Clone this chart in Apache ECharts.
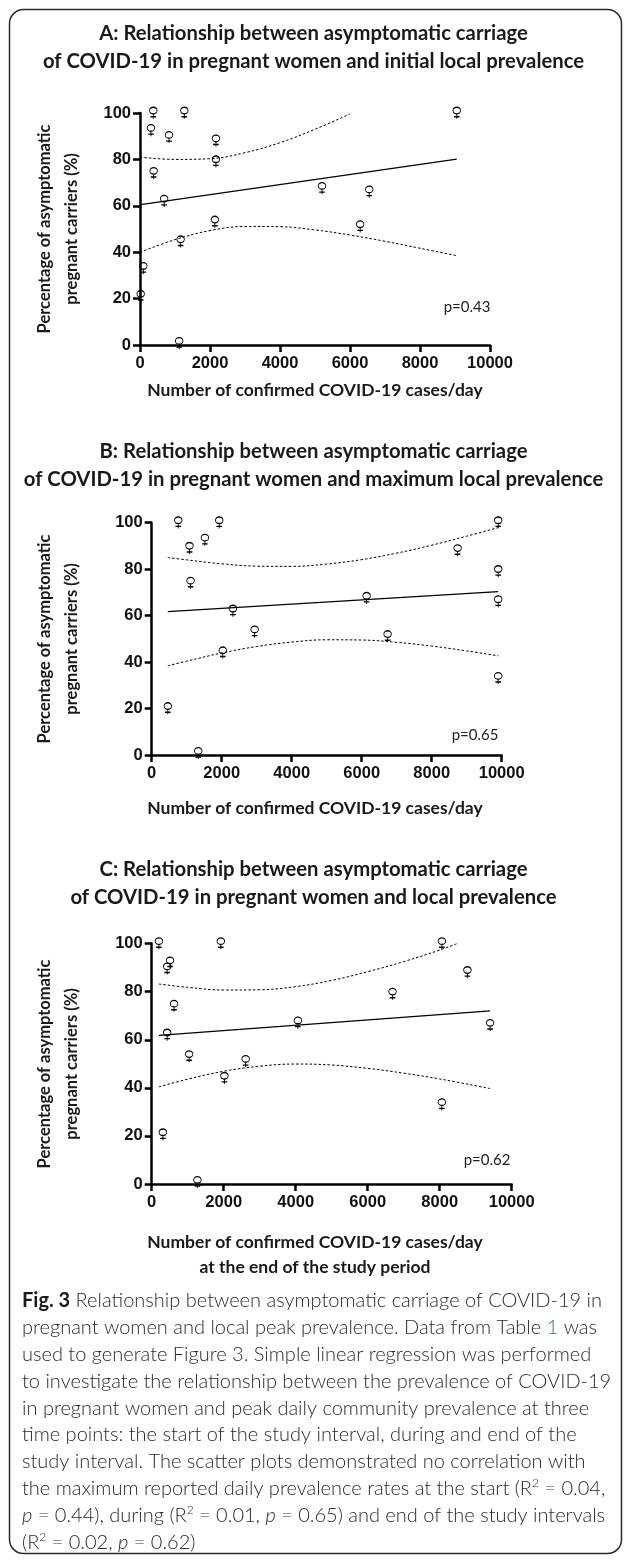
<!DOCTYPE html>
<html>
<head>
<meta charset="utf-8">
<script src="https://cdn.jsdelivr.net/npm/echarts@6/dist/echarts.min.js"></script>
<style>
html,body{margin:0;padding:0;background:#fff;}
#chart{width:627px;height:1560px;}
</style>
</head>
<body>
<div id="chart"></div>
<script>
// ---------- DATA ----------
const xTicks = [0, 2000, 4000, 6000, 8000, 10000];
const yTicks = [0, 20, 40, 60, 80, 100];

// Panel A: initial local prevalence
const aCases = [380, 1266, 314, 829, 2170, 2170, 390, 690, 5200, 6550, 6290, 1160, 2140, 95, 20, 1120, 9050];
const aPct   = [100, 100, 92.5, 89.5, 88, 79, 74, 62, 67.5, 66, 51, 44.5, 53, 33, 21, 0.7, 100];
const aFitX  = [20, 9050];
const aFitY  = [60.5, 80.1];
const aBandX = [0, 1000, 2000, 3000, 4000, 5000, 6000, 7000, 8000, 9050];
const aUpper = [81.0, 80.0, 80.3, 82.9, 87.2, 93.0, 99.6];
const aLower = [40.0, 45.4, 49.3, 51.1, 51.0, 49.6, 47.4, 44.7, 41.7, 38.5];

// Panel B: maximum local prevalence
const bCases = [460, 760, 1080, 1520, 1930, 1110, 2320, 2940, 2030, 1330, 9900, 8740, 9900, 9900, 6140, 6740, 9900];
const bPct   = [20, 100, 89, 92.5, 100, 74, 62, 53, 44, 0.7, 100, 88, 79, 66, 67.5, 51, 33];
const bFitX  = [460, 9900];
const bFitY  = [61.7, 70.3];
const bBandX = [460, 1000, 2000, 3000, 4000, 5000, 6000, 7000, 8000, 9000, 9900];
const bUpper = [85.0, 84.0, 82.3, 81.3, 81.2, 82.2, 84.1, 86.9, 90.3, 94.2, 97.9];
const bLower = [38.4, 40.4, 43.9, 46.7, 48.6, 49.6, 49.5, 48.5, 46.9, 44.8, 42.7];

// Panel C: prevalence at end of study period
const cCases = [200, 1920, 510, 430, 620, 430, 1040, 2020, 2610, 4060, 310, 1270, 8060, 8770, 6690, 9400, 8060];
const cPct   = [100, 100, 92, 89.5, 74, 62, 53, 44, 51, 67, 20.5, 0.7, 100, 88, 79, 66, 33];
const cFitX  = [200, 9400];
const cFitY  = [61.8, 72.0];
const cBandXU = [200, 1000, 2000, 3000, 4000, 5000, 6000, 7000, 8000, 8480];
const cUpper  = [83.2, 81.8, 80.7, 80.8, 82.1, 84.7, 88.3, 92.5, 97.3, 100];
const cBandXL = [200, 1000, 2000, 3000, 4000, 5000, 6000, 7000, 8000, 9400];
const cLower  = [40.4, 43.6, 46.9, 49.0, 49.9, 49.5, 48.1, 46.1, 43.7, 39.7];

const pValues = ['p=0.43', 'p=0.65', 'p=0.62'];

const titles = [
  'A: Relationship between asymptomatic carriage\nof COVID-19 in pregnant women and initial local prevalence',
  'B: Relationship between asymptomatic carriage\nof COVID-19 in pregnant women and maximum local prevalence',
  'C: Relationship between asymptomatic carriage\nof COVID-19 in pregnant women and local prevalence'
];
const xNames = [
  'Number of confirmed COVID-19 cases/day',
  'Number of confirmed COVID-19 cases/day',
  'Number of confirmed COVID-19 cases/day\nat the end of the study period'
];
const yName = 'Percentage of asymptomatic\npregnant carriers (%)';

const captionLines = [
  '{b|Fig. 3} Relationship between asymptomatic carriage of COVID-19 in',
  'pregnant women and local peak prevalence. Data from Table {l|1} was',
  'used to generate Figure 3. Simple linear regression was performed',
  'to investigate the relationship between the prevalence of COVID-19',
  'in pregnant women and peak daily community prevalence at three',
  'time points: the start of the study interval, during and end of the',
  'study interval. The scatter plots demonstrated no correlation with',
  'the maximum reported daily prevalence rates at the start (R{s|2} = 0.04,',
  '{i|p} = 0.44), during (R{s|2} = 0.01, {i|p} = 0.65) and end of the study intervals',
  '(R{s|2} = 0.02, {i|p} = 0.62)'
];

// ---------- helpers ----------
const zip = (xs, ys) => ys.map((y, i) => [xs[i], y]);
const FEMALE = 'path://M1,5A4,4 0 1,1 9,5A4,4 0 1,1 1,5Z M5,9L5,15 M2,12.5L8,12.5';

const panels = [
  {cases: aCases, pct: aPct, fitX: aFitX, fitY: aFitY, ux: aBandX, up: aUpper, lx: aBandX, lo: aLower},
  {cases: bCases, pct: bPct, fitX: bFitX, fitY: bFitY, ux: bBandX, up: bUpper, lx: bBandX, lo: bLower},
  {cases: cCases, pct: cPct, fitX: cFitX, fitY: cFitY, ux: cBandXU, up: cUpper, lx: cBandXL, lo: cLower}
];

const grids = [
  {left: 140,   top: 113,   width: 350, height: 232},
  {left: 151.7, top: 522.7, width: 350, height: 232.3},
  {left: 151.7, top: 943.6, width: 360, height: 240.4}
];
const xTitleCenterY = [390, 808, 1255];
const titleTop = [19.5, 437, 855];
const yTitleCenter = [229, 639, 1064];
const pPos = [[467, 307], [475, 735], [487, 1160]];

const axisLine = {lineStyle: {color: '#000', width: 2.5}};
const axisTick = {length: 7, lineStyle: {color: '#000', width: 2.5}};
const tickFont = {fontFamily: 'Liberation Sans', fontWeight: 'bold', fontSize: 16.5, color: '#111'};

const option = {
  animation: false,
  backgroundColor: '#fff',
  title: titles.map((t, i) => ({
    text: t, left: 'center', top: titleTop[i], padding: 0,
    textStyle: {fontFamily: 'Lato', fontWeight: 'bold', fontSize: 20.3, lineHeight: 28, color: '#1a1a1a'}
  })),
  grid: grids,
  xAxis: grids.map((g, i) => ({
    type: 'value', gridIndex: i, min: xTicks[0], max: xTicks[xTicks.length - 1],
    interval: xTicks[1] - xTicks[0],
    axisLine, axisTick, splitLine: {show: false},
    axisLabel: Object.assign({margin: 10, formatter: v => String(v)}, tickFont)
  })),
  yAxis: grids.map((g, i) => ({
    type: 'value', gridIndex: i, min: yTicks[0], max: yTicks[yTicks.length - 1],
    interval: yTicks[1] - yTicks[0],
    axisLine, axisTick, splitLine: {show: false},
    axisLabel: Object.assign({margin: 9, formatter: v => String(v)}, tickFont)
  })),
  series: [],
  graphic: []
};

panels.forEach((p, i) => {
  option.series.push({
    type: 'scatter', xAxisIndex: i, yAxisIndex: i,
    data: zip(p.cases, p.pct),
    symbol: FEMALE, symbolSize: [7.5, 11.5],
    itemStyle: {color: 'rgba(0,0,0,0)', borderColor: '#000', borderWidth: 1.1, opacity: 1},
    z: 5
  });
  option.series.push({
    type: 'line', xAxisIndex: i, yAxisIndex: i,
    data: zip(p.fitX, p.fitY), showSymbol: false, symbol: 'none',
    lineStyle: {color: '#000', width: 1.2}, z: 3
  });
  option.series.push({
    type: 'line', xAxisIndex: i, yAxisIndex: i,
    data: zip(p.ux, p.up), showSymbol: false, symbol: 'none', smooth: 0.4,
    lineStyle: {color: '#000', width: 1, type: [2.5, 2]}, z: 3
  });
  option.series.push({
    type: 'line', xAxisIndex: i, yAxisIndex: i,
    data: zip(p.lx, p.lo), showSymbol: false, symbol: 'none', smooth: 0.4,
    lineStyle: {color: '#000', width: 1, type: [2.5, 2]}, z: 3
  });
  // y-axis title
  option.graphic.push({
    type: 'text', x: 58.5, y: yTitleCenter[i], rotation: Math.PI / 2,
    style: {text: yName, fontFamily: 'Lato', fontWeight: 'bold', fontSize: 16.5, lineHeight: 27,
            fill: '#1a1a1a', align: 'center', verticalAlign: 'middle'}
  });
  // x-axis title (centred on the figure, as in the reference)
  option.graphic.push({
    type: 'text', x: 315, y: xTitleCenterY[i],
    style: {text: xNames[i], fontFamily: 'Lato', fontWeight: 'bold', fontSize: 17.5, lineHeight: 24.5,
            fill: '#1a1a1a', align: 'center', verticalAlign: 'middle'}
  });
  // p value
  option.graphic.push({
    type: 'text', x: pPos[i][0], y: pPos[i][1],
    style: {text: pValues[i], fontFamily: 'Lato', fontSize: 15, fill: '#222', align: 'center', verticalAlign: 'middle'}
  });
});

// frame
option.graphic.push({
  type: 'rect', shape: {x: 9.5, y: 9.5, width: 612, height: 1544, r: 14},
  style: {fill: 'none', stroke: '#2b2b2b', lineWidth: 1.5}, z: -1
});

// caption
const capFont = 20;
captionLines.forEach((t, k) => {
  option.graphic.push({
    type: 'text', x: 22, y: 1301 + k * 26.8,
    style: {
      text: t, fontFamily: 'Lato', fontWeight: 300, fontSize: capFont, fill: '#2a2a2a',
      align: 'left', verticalAlign: 'middle',
      rich: {
        b: {fontFamily: 'Lato', fontWeight: 'bold', fontSize: capFont, fill: '#1a1a1a'},
        l: {fontFamily: 'Lato', fontWeight: 300, fontSize: capFont, fill: '#2f6db5'},
        i: {fontFamily: 'Lato', fontWeight: 300, fontStyle: 'italic', fontSize: capFont, fill: '#2a2a2a'},
        s: {fontFamily: 'Lato', fontWeight: 300, fontSize: 12, fill: '#2a2a2a', padding: [0, 0, 10, 0]}
      }
    }
  });
});

const chart = echarts.init(document.getElementById('chart'), null, {renderer: 'canvas'});
chart.setOption(option);
</script>
</body>
</html>
